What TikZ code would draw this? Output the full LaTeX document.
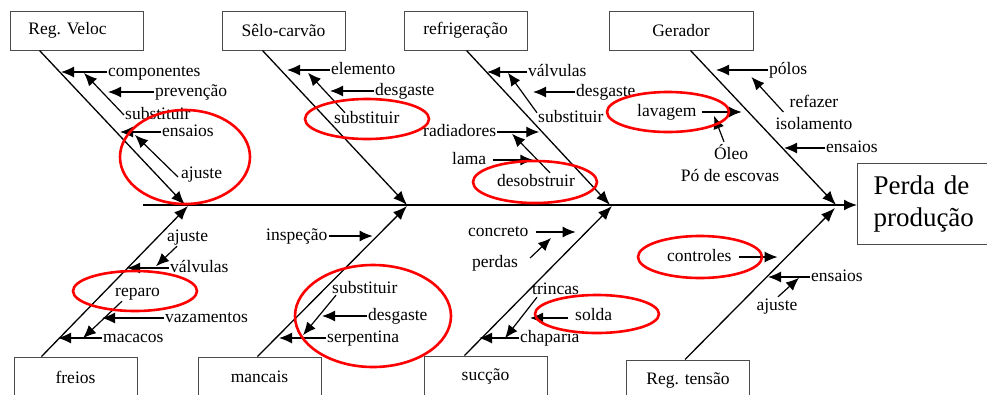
\documentclass[tikz,border=0pt]{standalone}
\usepackage{fontspec}
\setmainfont{Liberation Serif}
\usetikzlibrary{arrows.meta,calc}
\tikzset{
  box/.style={draw=black!70,line width=1pt,minimum width=123pt,minimum height=39pt,inner sep=0pt},
  lbl/.style={inner sep=1pt,anchor=west,text height=12pt,text depth=4pt},
  arr/.style={line width=1.2pt,-{Latex[length=13pt,width=11pt]}},
  spine/.style={line width=1.3pt,-{Latex[length=14pt,width=11pt]}},
  hit/.style={draw=red,line width=2.6pt},
}
\begin{document}
\begin{tikzpicture}[x=1pt,y=-1pt,font=\fontsize{17.5}{20}\selectfont]
\useasboundingbox (0,0) rectangle (987,394);
% boxes
\node[box,minimum width=133pt] (rv) at (76.5,30.5) {Reg. Veloc\kern18pt};
\node[box] (sl) at (283.5,30.5) {Sêlo-carvão};
\node[box] (rf) at (465.5,30.5) {refrigeração};
\node[box,minimum width=144pt] (gr) at (681,30.5) {Gerador};
\node[box,minimum height=40pt] (fr) at (75.5,377) {freios};
\node[box,minimum height=40pt] (mc) at (259.5,377) {mancais};
\node[box,minimum height=40pt] (sc) at (485.5,376) {sucção};
\node[box,minimum height=40pt] (rt) at (688,380) {Reg. tensão};
\node[draw=black!70,line width=1pt,anchor=north west,text width=104pt,inner xsep=16pt,
  minimum height=81pt,align=left,font=\fontsize{27}{32}\selectfont] (perda) at (857,163) {Perda de\\produção};
% main line
\coordinate (mainS) at (143,205);
\draw[line width=1.6pt,-{Latex[length=13pt,width=11pt]}] (mainS) -- (mainS -| perda.west);
\coordinate (rvE) at (185,205);
\coordinate (slE) at (407,205);
\coordinate (rfE) at (610,205);
\coordinate (grE) at (836,205);
\coordinate (frE) at (188,206);
\coordinate (mcE) at (407,206);
\coordinate (scE) at (612,206);
\coordinate (rtE) at (835,208);
\draw[spine] ($(rv.south west)+(30,0)$) -- (rvE);
\draw[spine] ($(sl.south west)+(41,0)$) -- (slE);
\draw[spine] ($(rf.south west)+(63,0)$) -- (rfE);
\draw[spine] ($(gr.south west)+(82,0)$) -- (grE);
\draw[spine] ($(fr.north west)+(28,0)$) -- (frE);
\draw[spine] ($(mc.north west)+(60,0)$) -- (mcE);
\draw[spine] ($(sc.north west)+(41,0)$) -- (scE);
\draw[spine] ($(rt.north west)+(59,0)$) -- (rtE);
% Reg. Veloc
\node[lbl] (rvComp) at (107,72) {componentes};
\node[lbl] (rvPrev) at (154,92) {prevenção};
\node[lbl] (rvSub) at (124,115) {substituir};
\node[lbl] (rvEns) at (161,132) {ensaios};
\node[lbl] (rvAj) at (180,174) {ajuste};
\draw[arr] (rvComp.west) -- ++(-46,0);
\draw[arr] (rvPrev.west) -- ++(-46,0);
\draw[arr] (rvSub.west) -- ++(-40,-42);
\draw[arr] (rvEns.west) -- ++(-41,0);
\draw[arr] ($(rvAj.west)+(-2,3)$) -- ++(-43,-42);
\draw[hit] (185,157) ellipse[x radius=65pt,y radius=47pt];
% Selo-carvao
\node[lbl] (slElem) at (330,70) {elemento};
\node[lbl] (slDesg) at (374,91) {desgaste};
\node[lbl] (slSub) at (333,119) {substituir};
\draw[arr] (slElem.west) -- ++(-43,0);
\draw[arr] (slDesg.west) -- ++(-44,0);
\draw[arr] ($(slSub.north west)+(12,3)$) -- ++(-37,-40);
\draw[hit] (367,119) ellipse[x radius=62pt,y radius=20pt];
% refrigeracao
\node[lbl] (rfValv) at (527,72) {válvulas};
\node[lbl] (rfDesg) at (575,92) {desgaste};
\node[lbl] (rfSub) at (537,118) {substituir};
\node[lbl] (rfRad) at (422,132) {radiadores};
\node[lbl] (rfLama) at (451,160) {lama};
\node[lbl,anchor=center] (rfDesob) at (536,182) {desobstruir};
\draw[arr] (rfValv.west) -- ++(-40,0);
\draw[arr] (rfDesg.west) -- ++(-42,0);
\draw[arr] ($(rfSub.north west)+(0,4)$) -- ++(-29,-40);
\draw[arr] (rfRad.east) -- ++(42,0);
\draw[arr] ($(rfLama.east)+(6,0)$) -- ++(40,0);
\draw[arr] ($(rfDesob.north)+(14,0)$) -- ++(-38,-39);
\draw[hit] (535,182) ellipse[x radius=62pt,y radius=21pt];
% Gerador
\node[lbl] (grPol) at (768,70) {pólos};
\node[inner sep=1pt,align=center,font=\fontsize{17.5}{22}\selectfont] (grRef) at (814,112) {refazer\\isolamento};
\node[lbl] (grEns) at (825,148) {ensaios};
\node[lbl] (grLav) at (636,112) {lavagem};
\node[lbl,anchor=center] (grOleo) at (731,155) {Óleo};
\node[lbl,anchor=center] (grPo) at (730,177) {Pó de escovas};
\draw[arr] (grPol.west) -- ++(-52,0);
\draw[arr] ($(grRef.west)+(9,0)$) -- ++(-32,-35);
\draw[arr] (grEns.west) -- ++(-41,0);
\draw[arr] ($(grLav.east)+(4,0)$) -- ++(40,0);
\draw[arr] ($(grOleo.north)+(-7,-4)$) -- ++(-10,-26);
\draw[hit] (668,112) ellipse[x radius=61pt,y radius=20pt];
% freios
\node[lbl] (frAj) at (166,237) {ajuste};
\node[lbl] (frValv) at (169,268) {válvulas};
\node[lbl] (frRep) at (114,292) {reparo};
\node[lbl] (frVaz) at (164,318) {vazamentos};
\node[lbl] (frMac) at (102,338) {macacos};
\draw[arr] ($(frAj.south west)+(11,0)$) -- ++(-21,20);
\draw[arr] (frValv.west) -- ++(-42,0);
\draw[arr] ($(frRep.south west)+(8,0)$) -- ++(-39,37);
\draw[arr] (frVaz.west) -- ++(-62,0);
\draw[arr] (frMac.west) -- ++(-44,0);
\draw[hit] (135,291) ellipse[x radius=62pt,y radius=20pt];
% mancais
\node[lbl] (mcInsp) at (265,236) {inspeção};
\node[lbl] (mcSub) at (331,289) {substituir};
\node[lbl] (mcDesg) at (367,316) {desgaste};
\node[lbl] (mcSerp) at (326,338) {serpentina};
\draw[arr] (mcInsp.east) -- ++(44,0);
\draw[arr] ($(mcSub.south west)+(5,-3)$) -- ++(-33,40);
\draw[arr] (mcDesg.west) -- ++(-45,0);
\draw[arr] (mcSerp.west) -- ++(-47,0);
\draw[hit] (373,316) ellipse[x radius=78pt,y radius=51pt];
% succao
\node[lbl] (scConc) at (467,232) {concreto};
\node[lbl] (scPerd) at (471,263) {perdas};
\node[lbl] (scTrin) at (531,290) {trincas};
\node[lbl] (scSold) at (574,316) {solda};
\node[lbl] (scChap) at (519,338) {chaparia};
\draw[arr] ($(scConc.east)+(6,0)$) -- ++(40,0);
\draw[arr] ($(scPerd.east)+(11,-5)$) -- ++(21,-20);
\draw[arr] ($(scTrin.south west)+(6,-2)$) -- ++(-32,41);
\draw[arr] ($(scSold.west)+(-6,2)$) -- ++(-38,0);
\draw[arr] (scChap.west) -- ++(-40,0);
\draw[hit] (597,314) ellipse[x radius=62pt,y radius=19pt];
% Reg. tensao
\node[lbl] (rtCont) at (666,257) {controles};
\node[lbl] (rtEns) at (810,277) {ensaios};
\node[lbl,anchor=center] (rtAj) at (777,306) {ajuste};
\draw[arr] ($(rtCont.east)+(6,0)$) -- ++(39,0);
\draw[arr] (rtEns.west) -- ++(-42,0);
\draw[arr] ($(rtAj.north)+(1,0)$) -- ++(21,-19);
\draw[hit] (700,257) ellipse[x radius=62pt,y radius=21pt];
\end{tikzpicture}
\end{document}
